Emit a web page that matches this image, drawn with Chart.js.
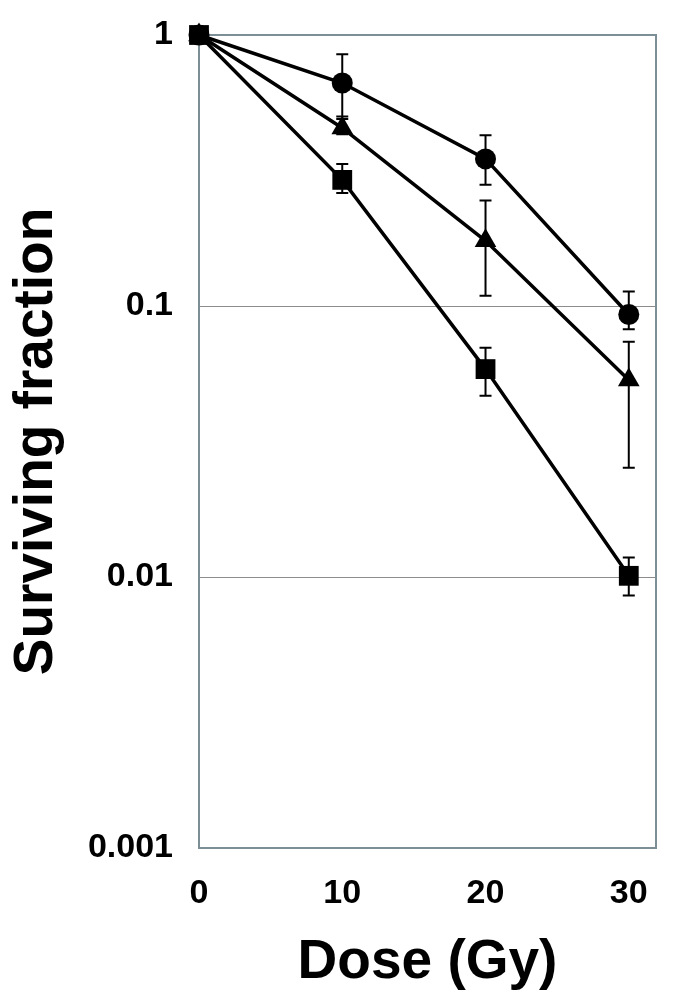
<!DOCTYPE html>
<html>
<head>
  <title>Surviving fraction vs dose</title>
  <script src="https://cdn.jsdelivr.net/npm/chart.js"></script>
  <style>
    body {
      margin: 0;
      background: white;
    }

    .chart-container {
      width: 685px;
      height: 1002px;
    }
  </style>
</head>
<body>
  <div class="chart-container">
    <canvas id="chart"></canvas>
  </div>

  <script>
    // dose in Gy
    var doses = [0, 10, 20, 30];

    // circles
    var circleMean = [1, 0.665, 0.349, 0.093];
    var circleUpper = [null, 0.85, 0.427, 0.113];
    var circleLower = [null, 0.50, 0.28, 0.082];

    // triangles
    var triangleMean = [1, 0.454, 0.174, 0.0533];
    var triangleUpper = [null, 0.49, 0.245, 0.0738];
    var triangleLower = [null, 0.43, 0.109, 0.0253];

    // squares
    var squareMean = [1, 0.292, 0.0585, 0.0101];
    var squareUpper = [null, 0.334, 0.0702, 0.0118];
    var squareLower = [null, 0.261, 0.0466, 0.00855];

    var xTicks = [0, 10, 20, 30];
    var yTicks = [0.001, 0.01, 0.1, 1];
    var yTickLabels = ['0.001', '0.01', '0.1', '1'];

    function points(ys) {
      return doses.map(function (d, i) { return { x: d, y: ys[i] }; });
    }

    function series(ys, shape, radius, upper, lower) {
      return {
        data: points(ys),
        upper: upper,
        lower: lower,
        clip: false,
        borderColor: 'black',
        backgroundColor: 'black',
        borderWidth: 3.5,
        pointStyle: shape,
        pointRadius: radius,
        pointBorderWidth: 0,
        pointBackgroundColor: 'black',
        fill: false,
        tension: 0
      };
    }

    // frame round the plot area, drawn under everything else
    var frame = {
      id: 'frame',
      beforeDatasetsDraw: function (chart) {
        var a = chart.chartArea;
        var ctx = chart.ctx;
        ctx.save();
        ctx.strokeStyle = '#7d8f96';
        ctx.lineWidth = 2;
        ctx.strokeRect(a.left, a.top, a.right - a.left, a.bottom - a.top);
        ctx.restore();
      }
    };

    // vertical error bars with caps, under the markers
    var errorBars = {
      id: 'errorBars',
      beforeDatasetsDraw: function (chart) {
        var ctx = chart.ctx;
        var xs = chart.scales.x;
        var ys = chart.scales.y;
        ctx.save();
        ctx.strokeStyle = 'black';
        ctx.lineWidth = 2;
        chart.data.datasets.forEach(function (ds) {
          ds.data.forEach(function (p, i) {
            var hi = ds.upper[i];
            var lo = ds.lower[i];
            if (hi == null || lo == null) return;
            var px = xs.getPixelForValue(p.x);
            var yHi = ys.getPixelForValue(hi);
            var yLo = ys.getPixelForValue(lo);
            ctx.beginPath();
            ctx.moveTo(px, yHi);
            ctx.lineTo(px, yLo);
            ctx.moveTo(px - 6, yHi);
            ctx.lineTo(px + 6, yHi);
            ctx.moveTo(px - 6, yLo);
            ctx.lineTo(px + 6, yLo);
            ctx.stroke();
          });
        });
        ctx.restore();
      }
    };

    var ctx = document.getElementById('chart').getContext('2d');
    var chart = new Chart(ctx, {
      type: 'line',
      data: {
        datasets: [
          series(squareMean, 'rect', 14, squareUpper, squareLower),
          series(triangleMean, 'triangle', 12.5, triangleUpper, triangleLower),
          series(circleMean, 'circle', 10.5, circleUpper, circleLower)
        ]
      },
      plugins: [frame, errorBars],
      options: {
        responsive: true,
        maintainAspectRatio: false,
        animation: false,
        layout: {
          padding: { left: 0, top: 35, right: 29, bottom: 0 }
        },
        plugins: {
          legend: { display: false },
          tooltip: { enabled: false }
        },
        scales: {
          x: {
            type: 'linear',
            min: 0,
            max: 31.9,
            afterBuildTicks: function (scale) {
              scale.ticks = xTicks.map(function (v) { return { value: v }; });
            },
            afterFit: function (scale) {
              scale.height = 154;
              scale.paddingLeft = 0;
              scale.paddingRight = 0;
            },
            grid: { display: false, drawTicks: false },
            border: { display: false },
            ticks: {
              padding: 25,
              color: 'black',
              maxRotation: 0,
              font: { family: 'Liberation Sans', size: 34, weight: 'bold' }
            },
            title: {
              display: true,
              text: 'Dose (Gy)',
              color: 'black',
              padding: { top: 0, bottom: 6 },
              font: { family: 'Liberation Sans', size: 55, weight: 'bold' }
            }
          },
          y: {
            type: 'logarithmic',
            min: 0.001,
            max: 1,
            afterBuildTicks: function (scale) {
              scale.ticks = yTicks.map(function (v) { return { value: v }; });
            },
            afterFit: function (scale) {
              scale.width = 199;
              scale.paddingTop = 0;
              scale.paddingBottom = 0;
            },
            grid: {
              drawTicks: false,
              lineWidth: 1,
              color: function (c) {
                var v = c.tick && c.tick.value;
                return (v === 0.1 || v === 0.01) ? '#8c8c8c' : 'rgba(0,0,0,0)';
              }
            },
            border: { display: false },
            ticks: {
              padding: 26,
              color: 'black',
              font: { family: 'Liberation Sans', size: 34, weight: 'bold' },
              callback: function (value) {
                var i = yTicks.indexOf(value);
                return i >= 0 ? yTickLabels[i] : '';
              }
            },
            title: {
              display: true,
              text: 'Surviving fraction',
              color: 'black',
              padding: { top: 4, bottom: 0 },
              font: { family: 'Liberation Sans', size: 55, weight: 'bold' }
            }
          }
        }
      }
    });
  </script>
</body>
</html>
